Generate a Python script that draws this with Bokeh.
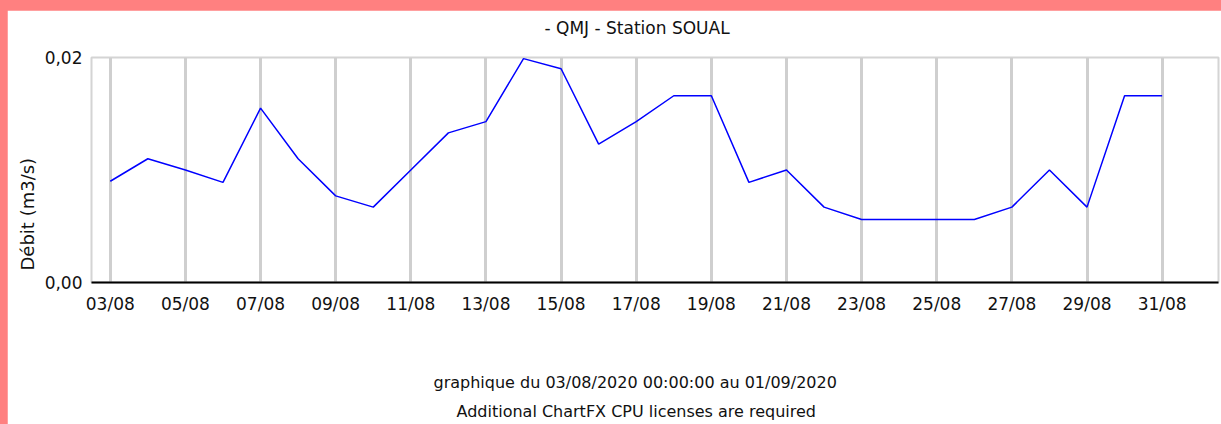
from bokeh.plotting import figure
from bokeh.models import FixedTicker, Title, Range1d, GlobalInlineStyleSheet
from bokeh.embed import file_html
from bokeh.resources import INLINE

# ---- data ----
dates = ["03/08", "04/08", "05/08", "06/08", "07/08", "08/08", "09/08", "10/08",
         "11/08", "12/08", "13/08", "14/08", "15/08", "16/08", "17/08", "18/08",
         "19/08", "20/08", "21/08", "22/08", "23/08", "24/08", "25/08", "26/08",
         "27/08", "28/08", "29/08", "30/08", "31/08"]
debit = [0.0090, 0.0110, 0.0100, 0.0089, 0.0155, 0.0110, 0.0077, 0.0067,
         0.0100, 0.0133, 0.0143, 0.0199, 0.0190, 0.0123, 0.0143, 0.0166,
         0.0166, 0.0089, 0.0100, 0.0067, 0.0056, 0.0056, 0.0056, 0.0056,
         0.0067, 0.0100, 0.0067, 0.0166, 0.0166]
y_ticks = [0.0, 0.02]
y_tick_labels = ["0,00", "0,02"]
title_text = "- QMJ - Station SOUAL"
y_label_text = "Débit (m3/s)"
footer1 = "graphique du 03/08/2020 00:00:00 au 01/09/2020"
footer2 = "Additional ChartFX CPU licenses are required"

xs = list(range(len(dates)))
tick_idx = xs[::2]

FONT = "DejaVu Sans"
FS = "17px"
TXT = "#111111"

css = GlobalInlineStyleSheet(css="html, body { background: #ff8080 !important; margin: 0; padding: 0; overflow: hidden; } body { padding: 10px 0 0 7px !important; }")

p = figure(width=1214, height=414, output_backend="svg", toolbar_location=None,
           x_range=Range1d(-0.5, len(dates) + 0.5), y_range=Range1d(0, 0.02),
           min_border_left=84, min_border_top=47, min_border_right=3, min_border_bottom=142,
           background_fill_color="white", border_fill_color="white")
p.stylesheets = [css]

p.line(xs, debit, line_color="#0000ff", line_width=1.5)

p.outline_line_color = "#d4d4d4"
p.outline_line_width = 2

# x axis
p.xaxis.ticker = FixedTicker(ticks=tick_idx)
p.xaxis.major_label_overrides = {i: dates[i] for i in tick_idx}
p.xaxis.axis_line_color = "black"
p.xaxis.axis_line_width = 2
p.xaxis.major_tick_line_color = None
p.xaxis.minor_tick_line_color = None
p.xaxis.major_tick_out = 0
p.xaxis.major_label_standoff = 11
p.xaxis.major_label_text_font = FONT
p.xaxis.major_label_text_font_size = FS
p.xaxis.major_label_text_color = TXT
# invisible spacer label: pushes the footer block down
p.xaxis.axis_label = " "
p.xaxis.axis_label_standoff = 30
p.xaxis.axis_label_text_font_size = FS

# y axis
p.yaxis.ticker = FixedTicker(ticks=y_ticks)
p.yaxis.major_label_overrides = {t: l for t, l in zip(y_ticks, y_tick_labels)}
p.yaxis.axis_line_color = None
p.yaxis.major_tick_line_color = None
p.yaxis.minor_tick_line_color = None
p.yaxis.major_tick_out = 0
p.yaxis.major_label_standoff = 9
p.yaxis.major_label_text_font = FONT
p.yaxis.major_label_text_font_size = FS
p.yaxis.major_label_text_color = TXT

# grids
p.xgrid.grid_line_color = "#cfcfcf"
p.xgrid.grid_line_width = 3
p.ygrid.visible = False

# titles / footers
spacer = Title(text=" ", standoff=5, text_font_size="10px")
p.add_layout(spacer, "above")
t_top = Title(text=title_text, align="left", offset=453, vertical_align="top", standoff=0,
              text_font=FONT, text_font_size="17px", text_font_style="normal", text_color=TXT)
p.add_layout(t_top, "above")

t_y = Title(text=y_label_text, align="left", offset=12, vertical_align="bottom", standoff=8,
            text_font=FONT, text_font_size="18px", text_font_style="normal", text_color=TXT)
p.add_layout(t_y, "left")

t_f1 = Title(text=footer1, align="left", offset=342, vertical_align="top", standoff=8,
             text_font=FONT, text_font_size="16px", text_font_style="normal", text_color=TXT)
p.add_layout(t_f1, "below")
t_f2 = Title(text=footer2, align="left", offset=365, vertical_align="bottom", standoff=4,
             text_font=FONT, text_font_size="16px", text_font_style="normal", text_color=TXT)
p.add_layout(t_f2, "below")

open("out.html", "w").write(file_html(p, INLINE))
